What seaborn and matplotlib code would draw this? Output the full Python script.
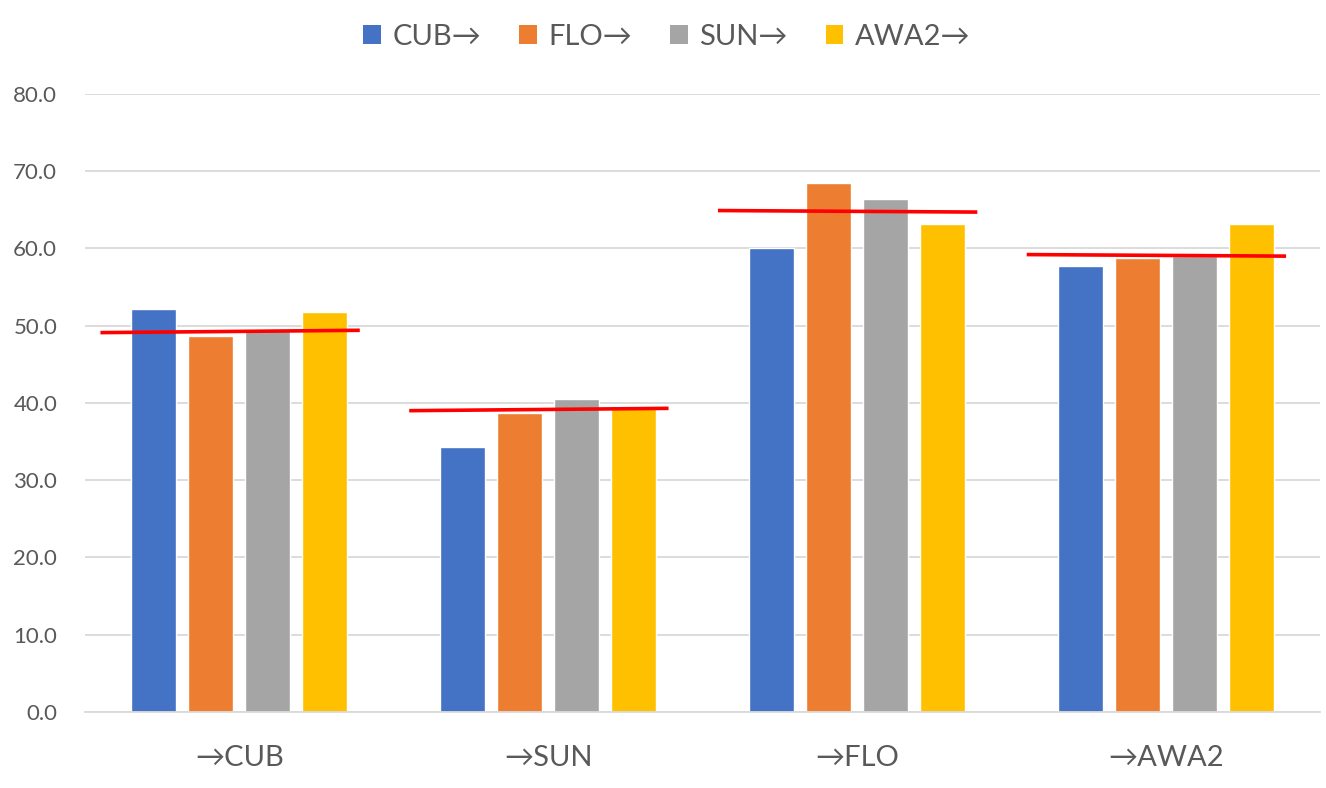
import pandas as pd
import matplotlib
matplotlib.use('Agg')
import matplotlib.pyplot as plt
from matplotlib.patches import Patch
import seaborn as sns

targets = ['→CUB', '→SUN', '→FLO', '→AWA2']
sources = ['CUB→', 'FLO→', 'SUN→', 'AWA2→']
cub_vals = [52.2, 34.3, 60.1, 57.7]
flo_vals = [48.7, 38.7, 68.4, 58.8]
sun_vals = [49.6, 40.5, 66.4, 59.0]
awa2_vals = [51.8, 39.6, 63.2, 63.1]
# red reference lines: level at left end / right end of each group
ref_left = [49.1, 39.0, 64.9, 59.2]
ref_right = [49.4, 39.3, 64.7, 59.0]

colors = ['#4472C4', '#ED7D31', '#A5A5A5', '#FFC000']
text_col = '#595959'
grid_col = '#D9D9D9'

rows = []
for src, vals in zip(sources, [cub_vals, flo_vals, sun_vals, awa2_vals]):
    for tgt, v in zip(targets, vals):
        rows.append({'target': tgt, 'source': src, 'acc': v})
df = pd.DataFrame(rows)

sns.set_style('white')
plt.rcParams['font.family'] = ['Lato', 'DejaVu Sans']

fig = plt.figure(figsize=(13.26, 7.88), dpi=100)
ax = fig.add_axes([0.0641, 0.0964, 0.9314, 0.7845])

sns.barplot(data=df, x='target', y='acc', hue='source', order=targets,
            hue_order=sources, palette=colors, saturation=1,
            width=0.738, gap=0.21, legend=False, ax=ax)

for i, (yl, yr) in enumerate(zip(ref_left, ref_right)):
    ax.plot([i - 0.45, i + 0.39], [yl, yr], color='#FF0000', lw=2.6,
            solid_capstyle='butt', zorder=5)

ax.set_ylim(0, 80)
ax.set_xlim(-0.5, 3.5)
ax.set_yticks(range(0, 81, 10))
ax.set_yticklabels([f'{t:.1f}' for t in range(0, 81, 10)])
ax.yaxis.grid(True, color=grid_col, lw=1.3)
ax.set_axisbelow(True)
for s in ['top', 'right', 'left']:
    ax.spines[s].set_visible(False)
ax.spines['bottom'].set_color(grid_col)
ax.spines['bottom'].set_linewidth(1.3)
ax.tick_params(axis='y', length=0, pad=20, labelsize=16, labelcolor=text_col)
ax.tick_params(axis='x', length=0, pad=24, labelsize=21, labelcolor=text_col)
ax.set_xlabel('')
ax.set_ylabel('')

handles = [Patch(facecolor=c, edgecolor='none') for c in colors]
fig.legend(handles, sources, loc='center', bbox_to_anchor=(0.503, 0.953),
           ncol=4, frameon=False, fontsize=21, handlelength=0.6,
           handleheight=0.6, handletextpad=0.4, columnspacing=1.3,
           labelcolor=text_col)

plt.savefig('out.png', dpi=100)
